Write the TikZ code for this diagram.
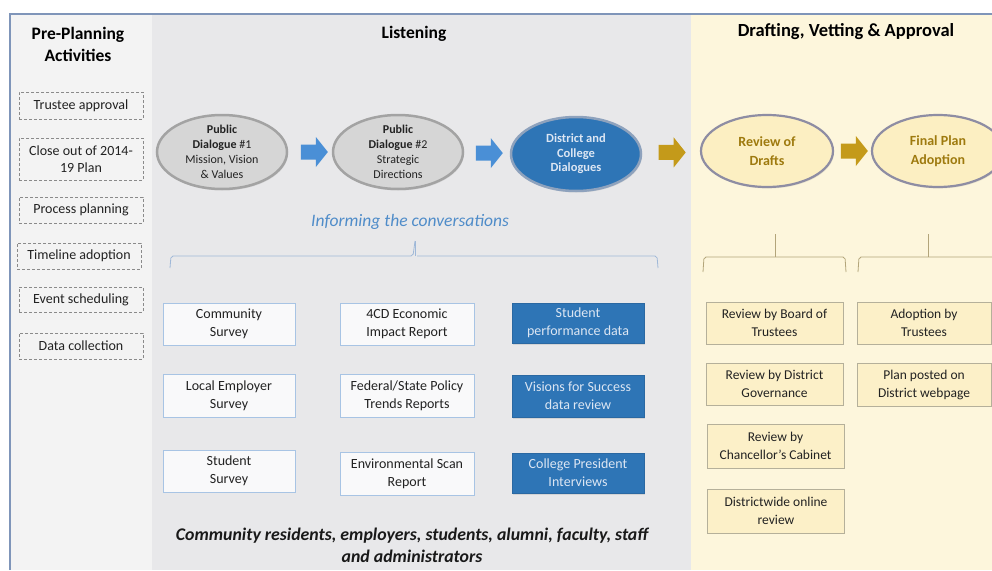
\documentclass[tikz,border=0pt]{standalone}
\usepackage{fontspec}
\setmainfont{Carlito}
\usetikzlibrary{shapes.geometric,shadows}
\definecolor{framec}{HTML}{7F95B9}
\definecolor{leftbg}{HTML}{F3F3F3}
\definecolor{listbg}{HTML}{E8E8EA}
\definecolor{rightbg}{HTML}{FDF6DC}
\definecolor{dashc}{HTML}{8A8A8A}
\definecolor{txtc}{HTML}{222222}
\definecolor{infofill}{HTML}{F9F9FA}
\definecolor{infodraw}{HTML}{A8C4E4}
\definecolor{bluefill}{HTML}{2E75B6}
\definecolor{bluedraw}{HTML}{2A68A2}
\definecolor{bluetxt}{HTML}{DCE6F3}
\definecolor{revfill}{HTML}{FCF0C8}
\definecolor{revdraw}{HTML}{B5B09A}
\definecolor{grayfill}{HTML}{D6D6D6}
\definecolor{graydraw}{HTML}{A3A3A3}
\definecolor{blueelldraw}{HTML}{8EA2BD}
\definecolor{creamfill}{HTML}{FCEFC2}
\definecolor{creamdraw}{HTML}{8E8DA3}
\definecolor{goldtxt}{HTML}{9E7A0E}
\definecolor{arrowblue}{HTML}{4A8FD6}
\definecolor{arrowgold}{HTML}{C49A1A}
\definecolor{informc}{HTML}{4F8CC9}
\definecolor{brackblue}{HTML}{9FB8D8}
\definecolor{brackgold}{HTML}{B3A57A}
\tikzset{
  titletext/.style={font=\fontsize{17.5}{22}\selectfont\bfseries, text=black, align=center},
  prebox/.style={draw=dashc, dash pattern=on 3pt off 2pt, line width=0.7pt, text=txtc,
     font=\fontsize{14}{17}\selectfont, align=center, inner sep=0pt},
  infobox/.style={draw=infodraw, fill=infofill, line width=0.9pt, text=txtc,
     font=\fontsize{14}{18}\selectfont, align=center, inner sep=0pt},
  bluebox/.style={draw=bluedraw, fill=bluefill, line width=0.9pt, text=bluetxt,
     font=\fontsize{14}{18}\selectfont, align=center, inner sep=0pt,
     drop shadow={opacity=0.2, shadow xshift=1pt, shadow yshift=-1.5pt}},
  revbox/.style={draw=revdraw, fill=revfill, line width=0.9pt, text=txtc,
     font=\fontsize{13.5}{18}\selectfont, align=center, inner sep=0pt},
  ellbase/.style={ellipse, inner sep=0pt, minimum width=130pt, minimum height=74pt,
     line width=2.5pt, drop shadow={opacity=0.18, shadow xshift=1pt, shadow yshift=-1.5pt}},
  grayell/.style={ellbase, fill=grayfill, draw=graydraw},
  blueell/.style={ellbase, fill=bluefill, draw=blueelldraw},
  creamell/.style={ellbase, fill=creamfill, draw=creamdraw, line width=2.2pt, minimum width=132pt, minimum height=72pt},
  elltext/.style={font=\fontsize{12}{15}\selectfont, text=txtc, align=center},
  bluetext/.style={font=\fontsize{12.5}{14.5}\selectfont\bfseries, text=bluetxt, align=center},
  creamtext/.style={font=\fontsize{14}{19}\selectfont\bfseries, text=goldtxt, align=center},
  pics/barrow/.style={code={\fill[#1] (-13.5,-7.5) -- (1.5,-7.5) -- (1.5,-15) -- (13.5,0) -- (1.5,15) -- (1.5,7.5) -- (-13.5,7.5) -- cycle;}}
}
\begin{document}
\begin{tikzpicture}[x=1pt,y=-1pt]
\useasboundingbox (0,0) rectangle (992,570);
% panels
\fill[white] (0,0) rectangle (992,570);
\fill[leftbg] (10,13) rectangle (152,570);
\fill[listbg] (152,13) rectangle (691,570);
\fill[rightbg] (691,13) rectangle (992,570);
\draw[framec, line width=2pt] (10,570) -- (10,13.5) -- (992,13.5);

% titles
\node[titletext] (t1) at (78,44) {Pre-Planning\\Activities};
\node[titletext] (t2) at (414,34) {Listening};
\node[titletext, font=\fontsize{18.5}{22}\selectfont\bfseries] (t3) at (846,32) {Drafting, Vetting \& Approval};

% pre-planning boxes
\node[prebox, minimum width=124pt, minimum height=27pt] (p1) at (81,105.5) {Trustee approval};
\node[prebox, minimum width=124pt, minimum height=42pt] (p2) at (81,159) {Close out of 2014-\\19 Plan};
\node[prebox, minimum width=124pt, minimum height=26pt] (p3) at (81,210) {Process planning};
\node[prebox, minimum width=124pt, minimum height=26pt] (p4) at (79,256) {Timeline adoption};
\node[prebox, minimum width=124pt, minimum height=25pt] (p5) at (81,299.5) {Event scheduling};
\node[prebox, minimum width=124pt, minimum height=26pt] (p6) at (81,346) {Data collection};

% ellipses
\node[grayell] (pd1) at (222,152) {};
\node[elltext] (pd1t) at (pd1) {\textbf{Public}\\\textbf{Dialogue} \#1\\Mission, Vision\\\& Values};
\node[grayell] (pd2) at (398,152) {};
\node[elltext] (pd2t) at (pd2) {\textbf{Public}\\\textbf{Dialogue} \#2\\Strategic\\Directions};
\node[blueell] (dcd) at (576,154) {};
\node[bluetext] (dcdt) at (dcd) {District and\\College\\Dialogues};
\node[creamell] (rod) at (767,151) {};
\node[creamtext] (rodt) at (rod) {Review of\\Drafts};
\node[creamell] (fpa) at (938,151) {};
\node[creamtext] (fpat) at (fpa) {Final Plan\\Adoption};

% block arrows
\path (pd1.east) -- (pd2.west) coordinate[pos=0.6] (a1);
\path (pd2.east) -- (dcd.west) coordinate[pos=0.55] (a2);
\path (dcd.east) -- (rod.west) coordinate[pos=0.52] (a3);
\path (rod.east) -- (fpa.west) coordinate[pos=0.55] (a4);
\pic at (a1) {barrow=arrowblue};
\pic at (a2) {barrow=arrowblue};
\pic at (a3) {barrow=arrowgold};
\pic at (a4) {barrow=arrowgold};

% informing label and brackets
\node[font=\fontsize{17.5}{21}\selectfont\itshape, text=informc] (inf) at (410,222) {Informing the conversations};
\coordinate (b1tick) at (415,241);
\draw[brackblue, line width=0.8pt, rounded corners=2pt]
  (170,268) -- (171,256) -- (413,256) -- (b1tick) (417,256) -- (657,256) -- (658,268);
\draw[brackblue, line width=0.8pt] (415,256) -- (b1tick);
\coordinate (b2tick) at (775,234);
\draw[brackgold, line width=0.8pt, rounded corners=2pt]
  (703,272) -- (704,257) -- (845,257) -- (846,272);
\draw[brackgold, line width=0.8pt] (775,257) -- (b2tick);
\coordinate (b3tick) at (928,234);
\draw[brackgold, line width=0.8pt, rounded corners=2pt]
  (858,272) -- (859,257) -- (994,257);
\draw[brackgold, line width=0.8pt] (928,257) -- (b3tick);

% listening boxes
\node[infobox, minimum width=132pt, minimum height=42pt] (c1) at (229,324) {Community\\Survey};
\node[infobox, minimum width=132pt, minimum height=43pt] (c2) at (229,395.5) {Local Employer\\Survey};
\node[infobox, minimum width=132pt, minimum height=42pt] (c3) at (229,471) {Student\\Survey};
\node[infobox, minimum width=134pt, minimum height=42pt] (e1) at (407,324) {4CD Economic\\Impact Report};
\node[infobox, minimum width=134pt, minimum height=43pt] (e2) at (407,395.5) {Federal/State Policy\\Trends Reports};
\node[infobox, minimum width=134pt, minimum height=43pt] (e3) at (407,473.5) {Environmental Scan\\Report};
\node[bluebox, minimum width=132pt, minimum height=40pt] (s1) at (578,323) {Student\\performance data};
\node[bluebox, minimum width=132pt, minimum height=42pt] (s2) at (578,396) {Visions for Success\\data review};
\node[bluebox, minimum width=132pt, minimum height=40pt] (s3) at (578,473) {College President\\Interviews};

% bottom text
\node[font=\fontsize{17.8}{22}\selectfont\bfseries\itshape, text=black!90, align=center] (who) at (412,545)
  {Community residents, employers, students, alumni, faculty, staff\\and administrators};

% review boxes
\node[revbox, minimum width=137pt, minimum height=42pt] (r1) at (774.5,323) {Review by Board of\\Trustees};
\node[revbox, minimum width=137pt, minimum height=42pt] (r2) at (774.5,384) {Review by District\\Governance};
\node[revbox, minimum width=137pt, minimum height=44pt] (r3) at (775.5,446) {Review by\\Chancellor's Cabinet};
\node[revbox, minimum width=137pt, minimum height=44pt] (r4) at (776,511) {Districtwide online\\review};
\node[revbox, minimum width=134pt, minimum height=42pt] (f1) at (924,323) {Adoption by\\Trustees};
\node[revbox, minimum width=134pt, minimum height=43pt] (f2) at (924,384.5) {Plan posted on\\District webpage};
\end{tikzpicture}
\end{document}
